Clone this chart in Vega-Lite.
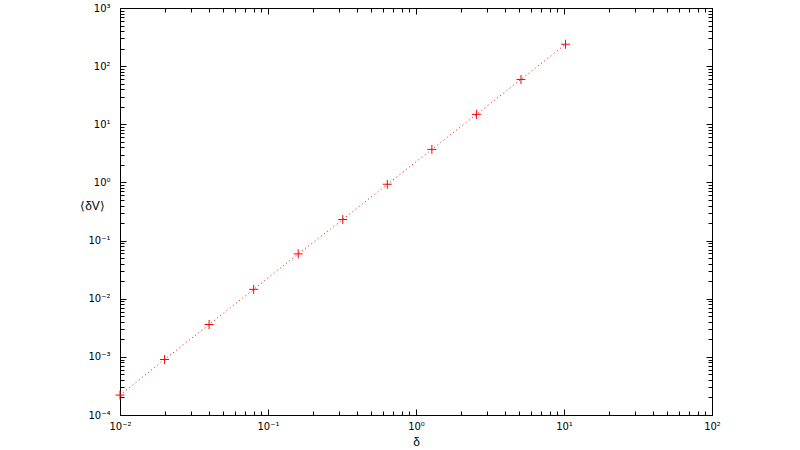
{
  "$schema": "https://vega.github.io/schema/vega-lite/v6.json",
  "width": 592,
  "height": 407,
  "autosize": {"type": "none"},
  "padding": {"left": 120, "top": 8, "right": 88, "bottom": 35},
  "background": "white",
  "config": {
    "view": {"stroke": null},
    "axis": {
      "labelFont": "DejaVu Sans",
      "labelFontSize": 10,
      "labelColor": "#000000",
      "titleFont": "Liberation Sans",
      "titleFontSize": 12,
      "titleFontWeight": "normal",
      "titleColor": "#000000",
      "domainColor": "#000000",
      "domainWidth": 1,
      "tickColor": "#000000",
      "tickWidth": 1,
      "grid": false
    }
  },
  "data": {
    "values": [
      {"d": 0.01, "v": 0.00022},
      {"d": 0.02, "v": 0.0009},
      {"d": 0.04, "v": 0.0036},
      {"d": 0.08, "v": 0.0145},
      {"d": 0.16, "v": 0.059},
      {"d": 0.32, "v": 0.23},
      {"d": 0.64, "v": 0.93},
      {"d": 1.28, "v": 3.7},
      {"d": 2.56, "v": 14.8},
      {"d": 5.12, "v": 59},
      {"d": 10.24, "v": 238}
    ]
  },
  "layer": [
    {
      "mark": {"type": "line", "color": "#ff0000", "strokeDash": [1, 3], "strokeWidth": 1, "clip": true},
      "encoding": {
        "x": {
          "field": "d", "type": "quantitative",
          "scale": {"type": "log", "domain": [0.01, 100], "nice": false},
          "axis": {
            "orient": "bottom",
            "title": "δ",
            "titleY": 26,
            "titleBaseline": "middle",
            "values": [0.01, 0.02, 0.03, 0.04, 0.05, 0.06, 0.07, 0.08, 0.09, 0.1, 0.2, 0.3, 0.4, 0.5, 0.6, 0.7, 0.8, 0.9, 1, 2, 3, 4, 5, 6, 7, 8, 9, 10, 20, 30, 40, 50, 60, 70, 80, 90, 100],
            "tickSize": {"condition": {"test": "abs(log(datum.value)/LN10 - round(log(datum.value)/LN10)) < 0.001", "value": -6}, "value": -4},
            "labelExpr": "abs(log(datum.value)/LN10 - round(log(datum.value)/LN10)) < 0.001 ? '10' + (round(log(datum.value)/LN10) < 0 ? '⁻' : '') + substring('⁰¹²³⁴⁵⁶⁷⁸⁹', abs(round(log(datum.value)/LN10)), abs(round(log(datum.value)/LN10)) + 1) : ''",
            "labelPadding": 12,
            "labelFlush": false,
            "labelOverlap": false
          }
        },
        "y": {
          "field": "v", "type": "quantitative",
          "scale": {"type": "log", "domain": [0.0001, 1000], "nice": false},
          "axis": {
            "orient": "left",
            "title": "⟨δV⟩",
            "titleAngle": 0,
            "titleAlign": "center",
            "titleBaseline": "middle",
            "titleX": -28,
            "titleY": 197,
            "values": [0.0001, 0.0002, 0.0003, 0.0004, 0.0005, 0.0006, 0.0007, 0.0008, 0.0009, 0.001, 0.002, 0.003, 0.004, 0.005, 0.006, 0.007, 0.008, 0.009, 0.01, 0.02, 0.03, 0.04, 0.05, 0.06, 0.07, 0.08, 0.09, 0.1, 0.2, 0.3, 0.4, 0.5, 0.6, 0.7, 0.8, 0.9, 1, 2, 3, 4, 5, 6, 7, 8, 9, 10, 20, 30, 40, 50, 60, 70, 80, 90, 100, 200, 300, 400, 500, 600, 700, 800, 900, 1000],
            "tickSize": {"condition": {"test": "abs(log(datum.value)/LN10 - round(log(datum.value)/LN10)) < 0.001", "value": -6}, "value": -4},
            "labelExpr": "abs(log(datum.value)/LN10 - round(log(datum.value)/LN10)) < 0.001 ? '10' + (round(log(datum.value)/LN10) < 0 ? '⁻' : '') + substring('⁰¹²³⁴⁵⁶⁷⁸⁹', abs(round(log(datum.value)/LN10)), abs(round(log(datum.value)/LN10)) + 1) : ''",
            "labelPadding": 16,
            "labelFlush": false,
            "labelOverlap": false
          }
        }
      }
    },
    {
      "mark": {"type": "point", "shape": "M-1,0L1,0M0,-1L0,1", "size": 81, "color": "#ff0000", "filled": false, "strokeWidth": 1, "opacity": 1},
      "encoding": {
        "x": {
          "field": "d", "type": "quantitative",
          "scale": {"type": "log", "domain": [0.01, 100], "nice": false},
          "axis": {
            "orient": "top",
            "title": null,
            "labels": false,
            "values": [0.01, 0.02, 0.03, 0.04, 0.05, 0.06, 0.07, 0.08, 0.09, 0.1, 0.2, 0.3, 0.4, 0.5, 0.6, 0.7, 0.8, 0.9, 1, 2, 3, 4, 5, 6, 7, 8, 9, 10, 20, 30, 40, 50, 60, 70, 80, 90, 100],
            "tickSize": {"condition": {"test": "abs(log(datum.value)/LN10 - round(log(datum.value)/LN10)) < 0.001", "value": -6}, "value": -4}
          }
        },
        "y": {
          "field": "v", "type": "quantitative",
          "scale": {"type": "log", "domain": [0.0001, 1000], "nice": false},
          "axis": {
            "orient": "right",
            "title": null,
            "labels": false,
            "values": [0.0001, 0.0002, 0.0003, 0.0004, 0.0005, 0.0006, 0.0007, 0.0008, 0.0009, 0.001, 0.002, 0.003, 0.004, 0.005, 0.006, 0.007, 0.008, 0.009, 0.01, 0.02, 0.03, 0.04, 0.05, 0.06, 0.07, 0.08, 0.09, 0.1, 0.2, 0.3, 0.4, 0.5, 0.6, 0.7, 0.8, 0.9, 1, 2, 3, 4, 5, 6, 7, 8, 9, 10, 20, 30, 40, 50, 60, 70, 80, 90, 100, 200, 300, 400, 500, 600, 700, 800, 900, 1000],
            "tickSize": {"condition": {"test": "abs(log(datum.value)/LN10 - round(log(datum.value)/LN10)) < 0.001", "value": -6}, "value": -4}
          }
        }
      }
    }
  ],
  "resolve": {"axis": {"x": "independent", "y": "independent"}}
}
